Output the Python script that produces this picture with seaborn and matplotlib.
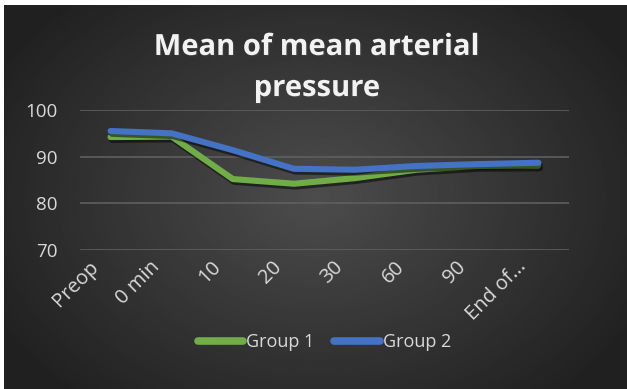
import numpy as np
import pandas as pd
import seaborn as sns
import matplotlib.pyplot as plt
import matplotlib.patheffects as pe
import matplotlib.transforms as mtransforms

# data
time_points = ['Preop', '0 min', '10', '20', '30', '60', '90', 'End of...']
group1 = [94.2, 94.3, 85.2, 84.2, 85.4, 87.2, 88.0, 88.1]
group2 = [95.5, 95.0, 91.4, 87.4, 87.2, 88.0, 88.4, 88.7]
series_names = ['Group 1', 'Group 2']
series_colors = ['#70AD47', '#4472C4']
y_ticks = [70, 80, 90, 100]

df = pd.DataFrame({
    'time': time_points * 2,
    'value': group1 + group2,
    'group': [series_names[0]] * len(time_points) + [series_names[1]] * len(time_points),
})

sns.set_style('dark')
plt.rcParams['font.family'] = ['Open Sans', 'DejaVu Sans']

W, H = 627, 389
fig = plt.figure(figsize=(W / 100, H / 100), dpi=100, facecolor='white')

# dark radial gradient background of the chart area
bg = fig.add_axes([4 / W, 0, 1 - 4 / W, 1 - 5 / H])
yy, xx = np.mgrid[0:1:200j, 0:1:300j]
r = np.sqrt(((xx - 0.5) / 0.55) ** 2 + ((yy - 0.5) / 0.65) ** 2)
shade = np.clip(0.30 - 0.16 * r, 0.13, 0.30)
bg.imshow(shade, cmap='gray', vmin=0, vmax=1, aspect='auto', extent=[0, 1, 0, 1])
bg.set_axis_off()

ax = fig.add_axes([80 / W, 1 - 250 / H, (569 - 80) / W, (250 - 110) / H])
ax.patch.set_alpha(0)

sns.lineplot(data=df, x='time', y='value', hue='group', palette=series_colors,
             linewidth=4.4, ax=ax, sort=False, legend=True,
             path_effects=[pe.SimpleLineShadow(offset=(1, -2), alpha=0.5),
                           pe.Normal()])
for line in ax.lines:
    line.set_solid_capstyle('round')
    line.set_solid_joinstyle('round')

ax.set_xlim(-0.5, len(time_points) - 0.5)
ax.set_ylim(70, 100)
ax.set_yticks(y_ticks)
ax.grid(axis='y', color='#5f5f5f', linewidth=1.2)
ax.grid(axis='x', visible=False)
for s in ax.spines.values():
    s.set_visible(False)
ax.set_xlabel('')
ax.set_ylabel('')
ax.tick_params(axis='both', length=0, colors='#d9d9d9')
ax.tick_params(axis='y', pad=16, labelsize=13.5)
ax.tick_params(axis='x', pad=10, labelsize=14.5)
shift = mtransforms.ScaledTranslation(-15 / 100, 0, fig.dpi_scale_trans)
for lab in ax.get_xticklabels():
    lab.set_rotation(45)
    lab.set_ha('right')
    lab.set_va('center')
    lab.set_rotation_mode('anchor')
    lab.set_transform(lab.get_transform() + shift)

leg = ax.legend(loc='center', bbox_to_anchor=(0.5, (250 - 342) / 140), ncol=2, frameon=False,
                fontsize=13, labelcolor='#d9d9d9', handlelength=2.5,
                handletextpad=0.2, columnspacing=1.1)
for h in leg.get_lines():
    h.set_linewidth(5.5)
    h.set_solid_capstyle('round')
    h.set_path_effects([])

fig.text(0.505, 1 - 68 / H, 'Mean of mean arterial\npressure', ha='center', va='center',
         color='#f2f2f2', fontsize=21, fontweight='bold', linespacing=1.55,
         path_effects=[pe.withSimplePatchShadow(offset=(1, -1), alpha=0.4)])

fig.savefig('out.png', dpi=100, facecolor='white')
